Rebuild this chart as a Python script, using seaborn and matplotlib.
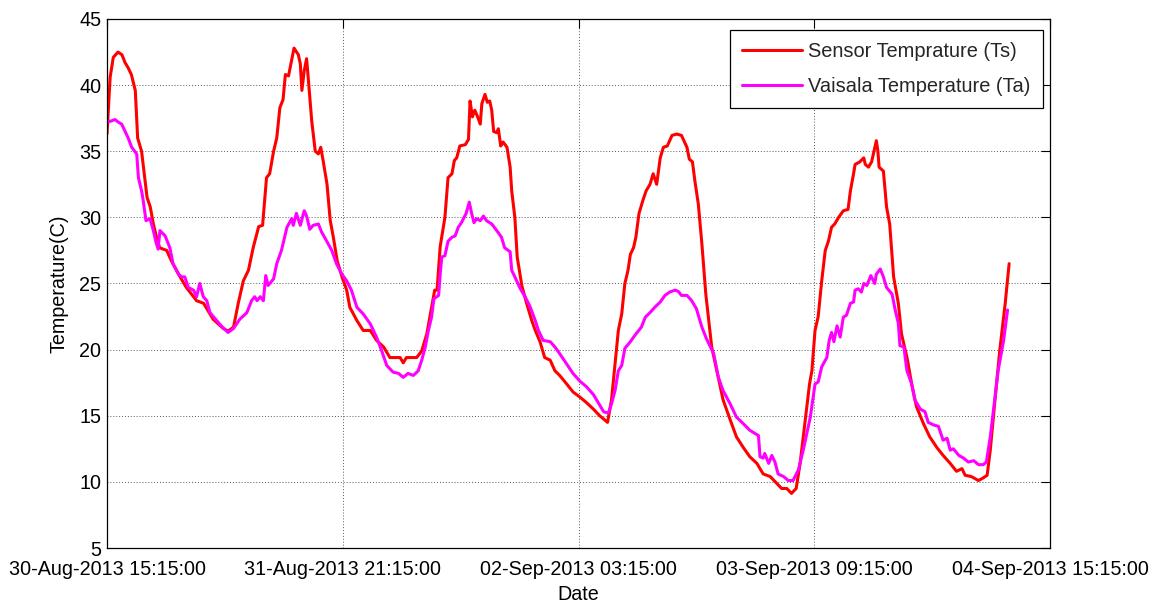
import matplotlib
matplotlib.use("Agg")
import matplotlib.pyplot as plt
import matplotlib.dates as mdates
import pandas as pd
import seaborn as sns

START = pd.Timestamp("2013-08-30 15:15:00")

# Sensor temperature (Ts): hours after START, degrees C
ts_hours = [
    0.0, 0.4, 0.8, 1.4, 1.9, 2.3, 2.7, 3.1, 3.6, 3.9, 4.4, 4.8, 5.1, 5.5, 5.9,
    6.3, 6.7, 7.6, 8.2, 9.3, 10.1, 11.4, 12.3, 13.5, 14.8, 15.4, 16.1, 16.7,
    17.35, 18.0, 18.6, 19.3, 19.8, 20.3, 20.7, 21.2, 21.6, 22.0, 22.4, 22.7,
    23.1, 23.4, 23.8, 24.35, 24.6, 24.8, 25.1, 25.4, 25.6, 26.05, 26.5, 26.9,
    27.2, 27.5, 28.0, 28.4, 28.8, 29.3, 29.9, 30.5, 30.9, 31.8, 32.6, 33.5,
    34.3, 35.2, 36.0, 37.3, 37.7, 38.1, 39.4, 40.05, 40.7, 41.3, 41.7, 42.0,
    42.4, 43.0, 43.4, 43.9, 44.2, 44.5, 44.9, 45.6, 46.0, 46.2, 46.5, 46.8,
    47.1, 47.5, 47.7, 48.1, 48.4, 48.7, 48.96, 49.2, 49.6, 49.8, 50.1, 50.4,
    50.9, 51.3, 51.5, 51.9, 52.2, 52.8, 53.4, 54.05, 54.5, 55.1, 55.7, 56.4,
    57.0, 57.6, 58.5, 59.3, 60.2, 61.0, 61.9, 62.7, 63.7, 64.2, 64.65, 65.07,
    65.5, 65.9, 66.3, 66.6, 67.0, 67.3, 67.7, 68.2, 68.6, 69.1, 69.5, 69.95,
    70.4, 70.8, 71.3, 71.9, 72.5, 73.1, 73.8, 74.1, 74.5, 74.8, 75.25, 75.7,
    76.2, 76.95, 77.6, 78.4, 79.3, 80.1, 80.97, 81.8, 82.7, 83.5, 84.4, 85.2,
    85.85, 86.5, 87.1, 87.7, 88.2, 88.6, 89.0, 89.4, 89.7, 89.9, 90.1, 90.5,
    90.95, 91.4, 91.8, 92.2, 92.6, 93.1, 93.7, 94.3, 94.6, 95.0, 95.2, 95.8,
    96.3, 96.5, 96.9, 97.3, 97.9, 98.1, 98.25, 98.8, 99.2, 99.6, 100.1, 100.7,
    101.1, 101.8, 102.4, 103.0, 103.9, 104.7, 105.6, 106.4, 107.3, 108.1,
    108.8, 109.2, 110.0, 110.9, 111.5, 112.0, 112.4, 113.0, 113.6, 114.3, 114.8,
]
ts_temp = [
    36.3, 40.6, 42.1, 42.5, 42.3, 41.7, 41.3, 40.8, 39.6, 36.0, 35.0, 33.0,
    31.5, 30.8, 29.5, 28.5, 27.7, 27.5, 26.7, 25.5, 24.7, 23.7, 23.5, 22.3,
    21.6, 21.4, 21.7, 23.5, 25.2, 26.0, 27.7, 29.3, 29.4, 33.0, 33.3, 35.0,
    36.0, 38.3, 38.9, 40.8, 40.7, 41.6, 42.8, 42.3, 41.6, 39.6, 41.1, 42.0,
    40.6, 37.3, 35.0, 34.8, 35.3, 34.3, 32.5, 29.8, 28.5, 26.7, 25.5, 24.5,
    23.2, 22.2, 21.45, 21.45, 20.7, 20.2, 19.4, 19.4, 19.0, 19.4, 19.4, 19.9,
    21.2, 23.2, 24.5, 24.5, 27.8, 30.0, 33.0, 33.3, 34.3, 34.5, 35.4, 35.5,
    35.9, 38.8, 37.6, 38.1, 37.7, 37.05, 38.6, 39.3, 38.7, 38.8, 38.1, 36.5,
    36.4, 36.7, 35.4, 35.7, 35.3, 33.8, 32.0, 30.0, 27.0, 24.8, 23.5, 22.2,
    21.45, 20.6, 19.4, 19.2, 18.4, 18.05, 17.4, 16.8, 16.4, 16.0, 15.5, 15.0,
    14.5, 16.2, 18.9, 21.45, 22.7, 25.0, 26.0, 27.2, 27.7, 28.5, 30.3, 31.3,
    32.0, 32.5, 33.3, 32.5, 34.5, 35.3, 35.4, 36.2, 36.3, 36.2, 35.3, 34.4,
    34.2, 32.8, 31.0, 28.0, 24.2, 20.2, 18.4, 16.2, 14.7, 13.4, 12.6, 11.9,
    11.4, 10.6, 10.4, 9.9, 9.5, 9.5, 9.13, 9.5, 11.4, 13.4, 15.4, 17.4, 18.4,
    19.9, 21.45, 22.5, 25.2, 27.5, 28.2, 29.25, 29.5, 30.0, 30.5, 30.6, 32.0,
    33.3, 34.0, 34.2, 34.5, 34.0, 33.8, 34.2, 35.8, 35.0, 33.8, 33.5, 30.8,
    29.5, 25.5, 23.5, 21.2, 19.4, 17.4, 15.7, 14.4, 13.4, 12.6, 12.0, 11.4,
    10.8, 11.0, 10.5, 10.4, 10.1, 10.3, 10.5, 12.4, 16.2, 19.9, 23.5, 26.5,
]

# Vaisala air temperature (Ta): hours after START, degrees C
ta_hours = [
    0.0, 0.6, 1.0, 1.44, 1.87, 2.3, 2.7, 3.14, 3.78, 4.0, 4.4, 4.6, 4.96,
    5.47, 5.9, 6.2, 6.5, 6.74, 7.4, 8.0, 8.4, 9.1, 9.5, 9.9, 10.35, 11.0,
    11.4, 11.8, 12.25, 12.7, 13.1, 13.96, 14.6, 15.4, 16.1, 16.9, 17.8, 18.4,
    18.8, 19.1, 19.5, 19.9, 20.2, 20.5, 21.2, 21.6, 22.2, 22.9, 23.5, 23.7,
    24.1, 24.6, 25.1, 25.4, 25.8, 26.25, 26.9, 27.3, 27.96, 28.6, 29.2, 29.9,
    30.5, 31.1, 31.8, 32.6, 33.5, 34.3, 34.96, 35.6, 36.4, 37.1, 37.7, 38.3,
    39.0, 39.6, 40.05, 40.5, 40.9, 41.3, 41.6, 42.2, 42.4, 42.6, 43.0, 43.4,
    43.9, 44.3, 44.7, 45.1, 45.7, 46.1, 46.4, 46.7, 47.05, 47.5, 47.9, 48.3,
    48.96, 49.6, 50.2, 50.6, 51.3, 51.5, 51.9, 52.6, 53.2, 53.8, 54.5, 54.9,
    55.5, 56.4, 57.0, 57.6, 58.5, 59.3, 60.2, 61.0, 61.9, 62.5, 63.2, 63.8,
    64.2, 64.65, 65.07, 65.5, 65.9, 66.6, 67.2, 68.0, 68.5, 69.1, 69.7, 70.4,
    71.0, 71.6, 72.3, 72.7, 73.1, 73.8, 74.4, 75.0, 75.7, 76.3, 77.2, 77.8,
    78.4, 79.3, 80.1, 80.97, 81.8, 82.9, 83.1, 83.5, 83.7, 84.2, 84.6, 85.0,
    85.4, 86.1, 86.7, 87.3, 87.98, 88.6, 89.5, 90.1, 90.5, 90.95, 91.6, 91.9,
    92.2, 92.5, 92.9, 93.3, 93.7, 94.1, 94.6, 95.0, 95.2, 95.6, 96.0, 96.3,
    96.7, 97.2, 97.7, 97.9, 98.4, 98.8, 99.2, 99.9, 100.3, 100.7, 100.9,
    101.4, 101.8, 102.4, 102.8, 103.5, 104.1, 104.5, 105.2, 105.8, 106.4,
    106.9, 107.3, 107.7, 108.4, 109.0, 109.6, 110.3, 110.9, 111.5, 111.9,
    112.4, 113.0, 113.4, 114.1, 114.6,
]
ta_temp = [
    37.2, 37.3, 37.4, 37.2, 37.05, 36.5, 36.0, 35.3, 34.8, 33.0, 32.0, 31.3,
    29.75, 29.9, 29.0, 28.2, 27.6, 29.0, 28.6, 27.7, 26.5, 25.7, 25.5, 25.5,
    24.7, 24.5, 24.0, 25.0, 24.0, 23.7, 22.8, 22.2, 21.75, 21.3, 21.6, 22.3,
    22.8, 23.7, 24.0, 23.7, 24.0, 23.7, 25.6, 24.85, 25.35, 26.5, 27.5, 29.25,
    29.9, 29.4, 30.3, 29.4, 30.5, 30.1, 29.1, 29.4, 29.5, 28.9, 28.2, 27.5,
    26.5, 25.7, 25.2, 24.5, 23.2, 22.7, 21.95, 20.95, 19.9, 18.8, 18.3, 18.2,
    17.9, 18.2, 18.05, 18.4, 19.2, 20.2, 21.45, 22.45, 23.85, 24.1, 25.7,
    27.0, 27.1, 28.2, 28.5, 28.6, 29.25, 29.6, 30.3, 31.15, 30.3, 29.6, 29.9,
    29.75, 30.1, 29.75, 29.5, 29.0, 28.5, 27.7, 27.4, 26.0, 25.5, 24.6, 24.0,
    23.3, 22.2, 21.45, 20.7, 20.6, 20.2, 19.7, 18.9, 18.2, 17.6, 17.2, 16.6,
    16.0, 15.3, 15.2, 15.9, 16.9, 18.4, 18.8, 20.1, 20.6, 21.1, 21.7, 22.45,
    22.8, 23.2, 23.6, 24.1, 24.35, 24.5, 24.4, 24.1, 24.1, 23.7, 23.1, 21.7,
    20.8, 19.7, 17.9, 16.9, 15.9, 14.9, 14.4, 13.9, 13.5, 11.9, 11.8, 12.15,
    11.4, 12.0, 11.5, 10.6, 10.4, 10.1, 10.1, 10.9, 12.4, 14.9, 17.4, 17.55,
    18.7, 19.4, 20.7, 21.3, 20.6, 21.8, 20.95, 22.45, 22.6, 23.5, 23.6, 24.5,
    24.6, 24.35, 25.0, 24.85, 25.6, 25.0, 25.7, 26.1, 25.5, 24.7, 24.2, 23.0,
    22.0, 20.3, 20.2, 18.4, 17.4, 16.2, 15.5, 15.3, 14.5, 14.3, 14.2, 13.15,
    13.3, 12.4, 12.5, 12.0, 11.8, 11.5, 11.6, 11.3, 11.3, 11.5, 13.4, 16.4,
    18.4, 20.7, 23.0,
]

tick_hours = [0, 30, 60, 90, 120]
y_ticks = [5, 10, 15, 20, 25, 30, 35, 40, 45]

sensor = pd.DataFrame({
    "Date": START + pd.to_timedelta(ts_hours, unit="h"),
    "Temperature": ts_temp,
})
vaisala = pd.DataFrame({
    "Date": START + pd.to_timedelta(ta_hours, unit="h"),
    "Temperature": ta_temp,
})

sns.set_theme(style="white")
plt.rcParams["font.family"] = ["Liberation Sans", "DejaVu Sans"]

fig = plt.figure(figsize=(11.52, 6.04), dpi=100)
ax = fig.add_axes([107 / 1152, 1 - 548 / 604, 943 / 1152, 529 / 604])

sns.lineplot(data=sensor, x="Date", y="Temperature", ax=ax, color="#ff0000",
             linewidth=2.2, estimator=None, label="Sensor Temprature (Ts)")
sns.lineplot(data=vaisala, x="Date", y="Temperature", ax=ax, color="#ff00ff",
             linewidth=2.2, estimator=None, label="Vaisala Temperature (Ta)")

ax.set_xlim(START, START + pd.Timedelta(hours=120))
ax.set_ylim(5, 45)
ax.set_xticks([START + pd.Timedelta(hours=h) for h in tick_hours])
ax.xaxis.set_major_formatter(mdates.DateFormatter("%d-%b-%Y %H:%M:%S"))
ax.set_yticks(y_ticks)

ax.grid(True, color="0.35", linestyle=(0, (1, 2)), linewidth=0.7)
ax.tick_params(direction="in", length=6.5, width=0.8, top=True, right=True,
               labelsize=14.2, colors="black")
ax.tick_params(axis="x", pad=8.5)
ax.tick_params(axis="y", pad=4)
for sp in ax.spines.values():
    sp.set_color("black")
    sp.set_linewidth(0.9)

ax.set_xlabel("Date", fontsize=14.2, color="black", labelpad=4.5)
ax.set_ylabel("Temperature(C)", fontsize=14.2, color="black", labelpad=8)

leg = ax.legend(loc="upper right", bbox_to_anchor=(1 - 7 / 943, 1 - 11 / 529),
                borderaxespad=0, frameon=True, fancybox=False, framealpha=1,
                edgecolor="black", fontsize=14.4, handlelength=3.0,
                handletextpad=0.3, labelspacing=0.78, borderpad=0.62)
leg.get_frame().set_linewidth(0.9)

fig.savefig("out.png", dpi=100, facecolor="white")
